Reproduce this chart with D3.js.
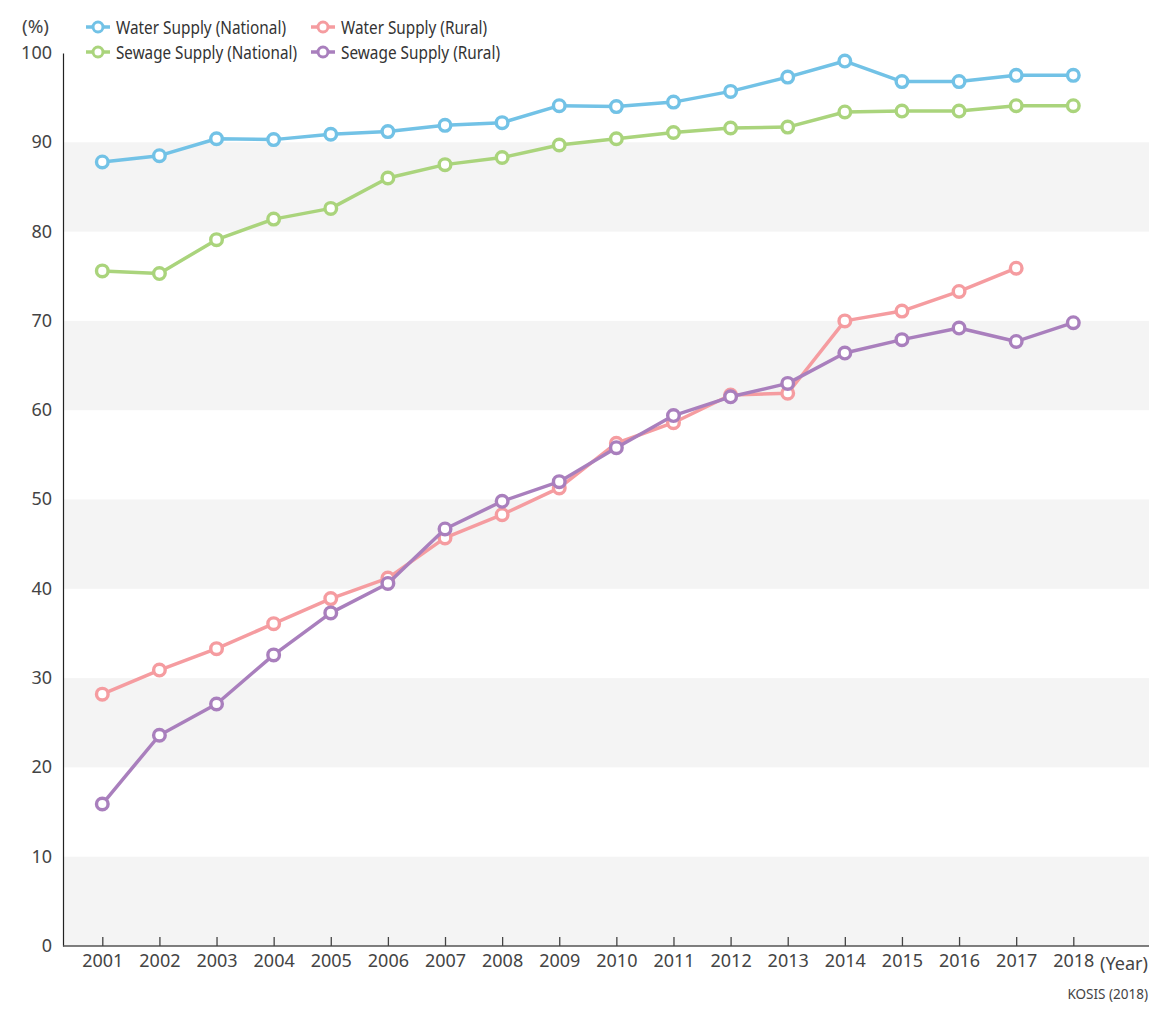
<!DOCTYPE html>
<html>
<head>
<meta charset="utf-8">
<script src="https://cdn.jsdelivr.net/npm/d3@7"></script>
<style>
  html, body { margin: 0; padding: 0; background: #fff; }
  svg { display: block; }
  text { font-family: "Noto Sans", "Open Sans", sans-serif; }
</style>
</head>
<body>
<svg id="chart" width="1154" height="1010"></svg>
<script>
// Supply rates (%) by year
const years = [2001, 2002, 2003, 2004, 2005, 2006, 2007, 2008, 2009, 2010, 2011, 2012, 2013, 2014, 2015, 2016, 2017, 2018];
const waterNational  = [87.8, 88.5, 90.4, 90.3, 90.9, 91.2, 91.9, 92.2, 94.1, 94.0, 94.5, 95.7, 97.3, 99.1, 96.8, 96.8, 97.5, 97.5];
const sewageNational = [75.6, 75.3, 79.1, 81.4, 82.6, 86.0, 87.5, 88.3, 89.7, 90.4, 91.1, 91.6, 91.7, 93.4, 93.5, 93.5, 94.1, 94.1];
const waterRural     = [28.2, 30.9, 33.3, 36.1, 38.9, 41.2, 45.7, 48.3, 51.3, 56.3, 58.6, 61.7, 61.9, 70.0, 71.1, 73.3, 75.9, null];
const sewageRural    = [15.9, 23.6, 27.1, 32.6, 37.3, 40.6, 46.7, 49.8, 52.0, 55.8, 59.4, 61.5, 63.0, 66.4, 67.9, 69.2, 67.7, 69.8];
const yTicks = [0, 10, 20, 30, 40, 50, 60, 70, 80, 90, 100];
const seriesNames = ["Water Supply (National)", "Sewage Supply (National)", "Water Supply (Rural)", "Sewage Supply (Rural)"];
const seriesColors = ["#72c2e6", "#aad47c", "#f59ca0", "#a97fbd"];

const series = [waterNational, sewageNational, waterRural, sewageRural].map((vals, i) => ({
  name: seriesNames[i],
  color: seriesColors[i],
  points: years.map((y, j) => ({ year: y, value: vals[j] })).filter(d => d.value != null)
}));

const svg = d3.select("#chart");
const plot = { left: 63, right: 1149, top: 53, bottom: 946 };
const labelFont = "'Noto Sans', sans-serif";

const x = d3.scaleLinear().domain([2001, 2018]).range([102.3, 1073.3]);
const y = d3.scaleLinear().domain([0, 100]).range([plot.bottom, plot.top]);

// alternating bands
svg.append("g").selectAll("rect")
  .data(yTicks.filter(t => t < 100 && (t / 10) % 2 === 0))
  .join("rect")
  .attr("x", plot.left).attr("width", plot.right - plot.left)
  .attr("y", d => y(d + 10)).attr("height", d => y(d) - y(d + 10))
  .attr("fill", "#f4f4f4");

// y axis
const yAxis = svg.append("g").attr("transform", `translate(${plot.left},0)`)
  .call(d3.axisLeft(y).tickValues(yTicks).tickSize(0).tickPadding(11));
yAxis.select(".domain").attr("stroke", "#222").attr("stroke-width", 1.2);
yAxis.selectAll("text").attr("font-size", 18).attr("fill", "#444")
  .attr("font-family", labelFont).attr("dy", "0.3em");

// x axis with inward ticks
const xAxis = svg.append("g").attr("transform", `translate(0,${plot.bottom})`)
  .call(d3.axisBottom(x).tickValues(years).tickFormat(d3.format("d")).tickSizeInner(-9).tickSizeOuter(0).tickPadding(8));
xAxis.select(".domain").attr("d", `M${plot.left},0H${plot.right}`).attr("stroke", "#555").attr("stroke-width", 1.5);
xAxis.selectAll(".tick line").attr("stroke", "#444").attr("stroke-width", 1.3);
xAxis.selectAll("text").attr("font-size", 18).attr("fill", "#444")
  .attr("font-family", labelFont);

svg.append("text").attr("x", 1100).attr("y", 970)
  .attr("font-size", 18).attr("fill", "#444")
  .attr("textLength", 48).attr("lengthAdjust", "spacingAndGlyphs").text("(Year)");
svg.append("text").attr("x", 22).attr("y", 33)
  .attr("font-size", 18).attr("fill", "#444")
  .attr("textLength", 27).attr("lengthAdjust", "spacingAndGlyphs").text("(%)");
svg.append("text").attr("x", 1148).attr("y", 999).attr("text-anchor", "end")
  .attr("font-size", 13.5).attr("fill", "#444")
  .text("KOSIS (2018)");

// lines and markers
const line = d3.line().x(d => x(d.year)).y(d => y(d.value));
const g = svg.append("g");
series.forEach(s => {
  const sg = g.append("g");
  sg.append("path").datum(s.points).attr("d", line)
    .attr("fill", "none").attr("stroke", s.color).attr("stroke-width", 3.5)
    .attr("stroke-linejoin", "round");
  sg.selectAll("circle").data(s.points).join("circle")
    .attr("cx", d => x(d.year)).attr("cy", d => y(d.value)).attr("r", 5.8)
    .attr("fill", "#fff").attr("stroke", s.color).attr("stroke-width", 3.4);
});

// legend (entry label widths kept compact so the two columns don't collide)
const legendPos = [[86, 27], [86, 52], [311, 27], [311, 52]];
const legendTextWidth = [170, 181, 146, 159];
series.forEach((s, i) => {
  const [lx, ly] = legendPos[i];
  const lg = svg.append("g").attr("transform", `translate(${lx},${ly})`);
  lg.append("line").attr("x1", 0).attr("x2", 24).attr("stroke", s.color).attr("stroke-width", 3.5);
  lg.append("circle").attr("cx", 12).attr("r", 5).attr("fill", "#fff")
    .attr("stroke", s.color).attr("stroke-width", 3);
  lg.append("text").attr("x", 30).attr("y", 6.5).attr("font-size", 18).attr("fill", "#333")
    .attr("textLength", legendTextWidth[i]).attr("lengthAdjust", "spacingAndGlyphs")
    .text(s.name);
});
</script>
</body>
</html>
